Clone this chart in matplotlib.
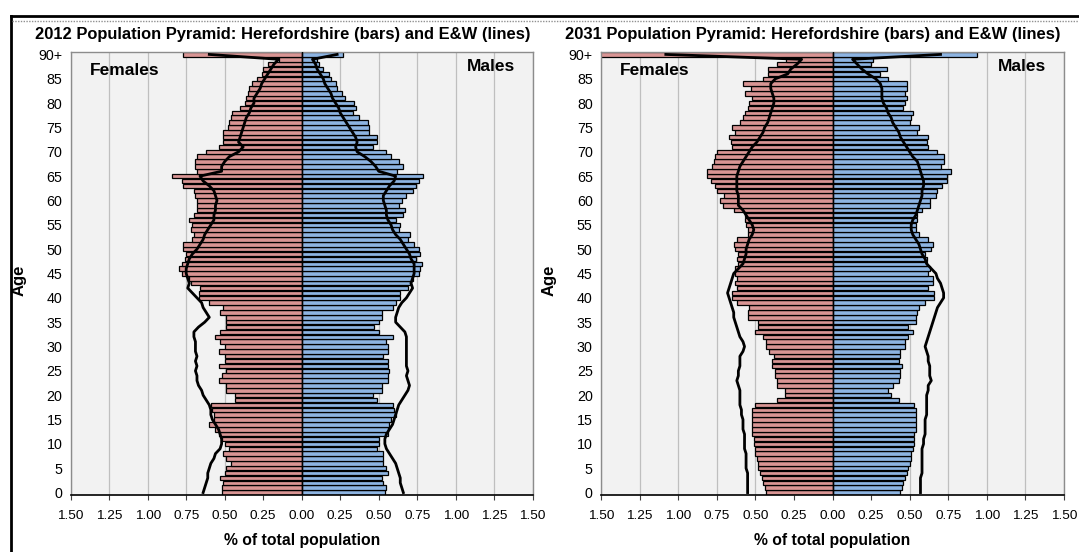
#!/usr/bin/env python3

import matplotlib
matplotlib.use('Agg')
import matplotlib.pyplot as plt
from matplotlib.lines import Line2D
import numpy as np

plt.rcParams['font.family'] = ['Liberation Sans', 'DejaVu Sans']

# ages 0..89 plus 90+ (index 90)
ages = list(range(91))
age_ticks = list(range(0, 91, 5))
age_tick_labels = [str(a) for a in range(0, 90, 5)] + ['90+']
x_ticks = [-1.5, -1.25, -1.0, -0.75, -0.5, -0.25, 0, 0.25, 0.5, 0.75, 1.0, 1.25, 1.5]

# 2012 Herefordshire (bars), % of total population
fem_2012 = [0.52, 0.52, 0.51, 0.53, 0.50, 0.49, 0.46, 0.49, 0.51, 0.47,
            0.50, 0.52, 0.54, 0.56, 0.60, 0.57, 0.57, 0.58, 0.59, 0.43,
            0.43, 0.49, 0.49, 0.54, 0.52, 0.49, 0.54, 0.50, 0.50, 0.54,
            0.50, 0.53, 0.56, 0.53, 0.49, 0.49, 0.49, 0.53, 0.51, 0.60,
            0.67, 0.67, 0.66, 0.72, 0.73, 0.78, 0.80, 0.78, 0.76, 0.75,
            0.77, 0.77, 0.71, 0.70, 0.72, 0.71, 0.73, 0.70, 0.68, 0.68,
            0.68, 0.69, 0.70, 0.77, 0.78, 0.84, 0.68, 0.69, 0.69, 0.68,
            0.62, 0.54, 0.51, 0.51, 0.51, 0.48, 0.47, 0.46, 0.45, 0.40,
            0.37, 0.36, 0.35, 0.34, 0.32, 0.29, 0.26, 0.25, 0.22, 0.15,
            0.77]
mal_2012 = [0.54, 0.55, 0.53, 0.52, 0.56, 0.55, 0.53, 0.53, 0.53, 0.49,
            0.50, 0.50, 0.56, 0.56, 0.57, 0.58, 0.61, 0.60, 0.59, 0.49,
            0.46, 0.52, 0.52, 0.56, 0.56, 0.57, 0.56, 0.56, 0.53, 0.56,
            0.56, 0.55, 0.59, 0.50, 0.47, 0.50, 0.52, 0.52, 0.59, 0.61,
            0.64, 0.64, 0.69, 0.70, 0.72, 0.76, 0.77, 0.78, 0.74, 0.77,
            0.76, 0.73, 0.69, 0.70, 0.63, 0.64, 0.61, 0.66, 0.67, 0.63,
            0.65, 0.68, 0.72, 0.74, 0.76, 0.79, 0.62, 0.66, 0.63, 0.58,
            0.55, 0.46, 0.49, 0.49, 0.44, 0.44, 0.43, 0.37, 0.33, 0.35,
            0.34, 0.28, 0.26, 0.23, 0.22, 0.19, 0.18, 0.14, 0.11, 0.10,
            0.27]

# 2012 England & Wales (lines)
fem_ew_2012 = [0.64, 0.63, 0.62, 0.61, 0.61, 0.60, 0.59, 0.57, 0.56, 0.53,
               0.52, 0.52, 0.53, 0.54, 0.56, 0.58, 0.59, 0.59, 0.60, 0.62,
               0.64, 0.65, 0.67, 0.68, 0.68, 0.69, 0.68, 0.69, 0.68, 0.69,
               0.69, 0.69, 0.70, 0.70, 0.67, 0.63, 0.60, 0.62, 0.64, 0.65,
               0.68, 0.71, 0.74, 0.73, 0.74, 0.75, 0.75, 0.74, 0.73, 0.71,
               0.68, 0.66, 0.64, 0.63, 0.61, 0.59, 0.57, 0.57, 0.56, 0.56,
               0.55, 0.56, 0.57, 0.60, 0.64, 0.66, 0.52, 0.52, 0.50, 0.47,
               0.41, 0.38, 0.41, 0.40, 0.39, 0.38, 0.37, 0.36, 0.34, 0.33,
               0.31, 0.31, 0.29, 0.27, 0.26, 0.24, 0.22, 0.20, 0.18, 0.15,
               0.60]
mal_ew_2012 = [0.66, 0.65, 0.64, 0.64, 0.63, 0.62, 0.61, 0.59, 0.57, 0.55,
               0.54, 0.54, 0.55, 0.57, 0.59, 0.60, 0.61, 0.62, 0.63, 0.65,
               0.67, 0.69, 0.70, 0.69, 0.68, 0.69, 0.68, 0.68, 0.68, 0.68,
               0.68, 0.68, 0.68, 0.67, 0.64, 0.61, 0.61, 0.62, 0.63, 0.65,
               0.68, 0.70, 0.72, 0.71, 0.72, 0.73, 0.73, 0.73, 0.71, 0.70,
               0.68, 0.66, 0.64, 0.61, 0.59, 0.58, 0.56, 0.55, 0.55, 0.54,
               0.53, 0.53, 0.55, 0.57, 0.60, 0.61, 0.50, 0.48, 0.45, 0.41,
               0.36, 0.35, 0.36, 0.35, 0.33, 0.31, 0.29, 0.27, 0.25, 0.24,
               0.22, 0.20, 0.19, 0.17, 0.15, 0.14, 0.12, 0.10, 0.09, 0.07,
               0.23]

# 2031 Herefordshire (bars)
fem_2031 = [0.43, 0.44, 0.45, 0.46, 0.47, 0.48, 0.48, 0.49, 0.50, 0.50,
            0.51, 0.51, 0.52, 0.52, 0.52, 0.52, 0.52, 0.52, 0.50, 0.36,
            0.31, 0.31, 0.36, 0.36, 0.37, 0.37, 0.39, 0.39, 0.38, 0.41,
            0.43, 0.43, 0.45, 0.50, 0.48, 0.48, 0.55, 0.55, 0.54, 0.62,
            0.65, 0.65, 0.62, 0.63, 0.62, 0.63, 0.63, 0.61, 0.62, 0.61,
            0.63, 0.64, 0.62, 0.55, 0.55, 0.56, 0.57, 0.57, 0.64, 0.71,
            0.73, 0.70, 0.75, 0.76, 0.79, 0.81, 0.81, 0.78, 0.77, 0.76,
            0.75, 0.65, 0.66, 0.67, 0.63, 0.65, 0.60, 0.58, 0.57, 0.55,
            0.54, 0.52, 0.57, 0.53, 0.58, 0.45, 0.42, 0.42, 0.36, 0.30,
            1.62]
mal_2031 = [0.44, 0.45, 0.46, 0.47, 0.48, 0.49, 0.50, 0.51, 0.51, 0.52,
            0.53, 0.53, 0.53, 0.54, 0.54, 0.54, 0.54, 0.54, 0.53, 0.43,
            0.38, 0.36, 0.39, 0.43, 0.44, 0.44, 0.45, 0.43, 0.44, 0.44,
            0.47, 0.47, 0.49, 0.52, 0.49, 0.54, 0.54, 0.55, 0.56, 0.60,
            0.66, 0.66, 0.62, 0.65, 0.65, 0.62, 0.63, 0.61, 0.61, 0.60,
            0.64, 0.65, 0.62, 0.56, 0.54, 0.54, 0.55, 0.55, 0.58, 0.63,
            0.63, 0.67, 0.68, 0.71, 0.74, 0.74, 0.77, 0.70, 0.72, 0.72,
            0.68, 0.62, 0.61, 0.62, 0.55, 0.56, 0.50, 0.51, 0.52, 0.46,
            0.47, 0.48, 0.47, 0.48, 0.48, 0.36, 0.31, 0.35, 0.25, 0.26,
            0.935]

# 2031 England & Wales (lines)
fem_ew_2031 = [0.55, 0.55, 0.55, 0.55, 0.55, 0.56, 0.56, 0.56, 0.56, 0.57,
               0.57, 0.57, 0.57, 0.58, 0.58, 0.58, 0.59, 0.59, 0.60, 0.60,
               0.60, 0.60, 0.61, 0.62, 0.61, 0.61, 0.60, 0.60, 0.60, 0.58,
               0.57, 0.58, 0.60, 0.61, 0.62, 0.63, 0.64, 0.64, 0.65, 0.66,
               0.67, 0.68, 0.67, 0.66, 0.65, 0.64, 0.61, 0.58, 0.57, 0.56,
               0.56, 0.55, 0.54, 0.52, 0.51, 0.52, 0.54, 0.56, 0.58, 0.61,
               0.61, 0.61, 0.62, 0.62, 0.62, 0.62, 0.61, 0.60, 0.58, 0.56,
               0.54, 0.52, 0.49, 0.47, 0.45, 0.44, 0.42, 0.41, 0.40, 0.39,
               0.38, 0.38, 0.39, 0.40, 0.40, 0.37, 0.29, 0.27, 0.23, 0.20,
               1.08]
mal_ew_2031 = [0.57, 0.57, 0.57, 0.57, 0.58, 0.58, 0.58, 0.58, 0.58, 0.58,
               0.59, 0.59, 0.60, 0.60, 0.60, 0.60, 0.61, 0.61, 0.61, 0.61,
               0.61, 0.62, 0.62, 0.64, 0.63, 0.63, 0.63, 0.62, 0.62, 0.61,
               0.60, 0.61, 0.62, 0.63, 0.64, 0.65, 0.66, 0.67, 0.68, 0.70,
               0.72, 0.72, 0.71, 0.70, 0.68, 0.67, 0.64, 0.61, 0.60, 0.58,
               0.57, 0.56, 0.54, 0.52, 0.51, 0.51, 0.52, 0.54, 0.55, 0.56,
               0.57, 0.58, 0.58, 0.59, 0.59, 0.58, 0.57, 0.56, 0.55, 0.52,
               0.50, 0.48, 0.46, 0.44, 0.43, 0.41, 0.39, 0.38, 0.36, 0.35,
               0.33, 0.32, 0.32, 0.32, 0.31, 0.28, 0.23, 0.19, 0.16, 0.13,
               0.70]

female_col = '#D99594'
male_col = '#8DB4E2'

W, H = 1079, 552


def draw_pyramid(ax, fem, mal, fem_line, mal_line):
    ax.set_facecolor('#F2F2F2')
    for x in x_ticks:
        if x != 0:
            ax.axvline(x, color='#BFBFBF', lw=0.9, zorder=0)
    ax.barh(ages, -np.array(fem), height=0.92, color=female_col,
            edgecolor='black', linewidth=0.9, zorder=2)
    ax.barh(ages, mal, height=0.92, color=male_col,
            edgecolor='black', linewidth=0.9, zorder=2)
    ax.axvline(0, color='black', lw=1.0, zorder=3)
    ax.plot(-np.array(fem_line), ages, color='black', lw=2.0, zorder=4)
    ax.plot(mal_line, ages, color='black', lw=2.0, zorder=4)

    ax.set_xlim(-1.5, 1.5)
    ax.set_ylim(-0.5, 90.5)
    ax.set_xticks(x_ticks)
    ax.set_xticklabels(['%.2f' % abs(x) for x in x_ticks], fontsize=9.7)
    ax.set_yticks(age_ticks)
    ax.set_yticklabels(age_tick_labels, fontsize=10.3)
    ax.tick_params(axis='y', length=0, pad=6)
    ax.tick_params(axis='x', length=3.5, width=0.8, color='#404040',
                   direction='out', pad=7.5)
    for side in ['top', 'right', 'left']:
        ax.spines[side].set_color('#8C8C8C')
        ax.spines[side].set_linewidth(1.0)
    ax.spines['bottom'].set_color('black')
    ax.spines['bottom'].set_linewidth(1.2)

    ax.text(-1.375, 86.8, 'Females', fontsize=12.5, fontweight='bold',
            ha='left', va='center')
    ax.text(1.385, 87.6, 'Males', fontsize=12.5, fontweight='bold',
            ha='right', va='center')
    ax.set_ylabel('Age', fontsize=12, fontweight='bold')
    ax.yaxis.set_label_coords(-0.095, 0.485)
    ax.text(0.5, (495 - 541) / 443, '% of total population', transform=ax.transAxes,
            fontsize=11.3, fontweight='bold', ha='center', va='center')


fig = plt.figure(figsize=(W / 100, H / 100), dpi=100)
fig.patch.set_facecolor('white')

ax1 = fig.add_axes([70.7 / W, (H - 495) / H, 462 / W, 443 / H])
ax2 = fig.add_axes([601 / W, (H - 495) / H, 463 / W, 443 / H])

draw_pyramid(ax1, fem_2012, mal_2012, fem_ew_2012, mal_ew_2012)
draw_pyramid(ax2, fem_2031, mal_2031, fem_ew_2031, mal_ew_2031)

fig.text(283 / W, 1 - 35 / H,
         '2012 Population Pyramid: Herefordshire (bars) and E&W (lines)',
         fontsize=11.9, fontweight='bold', ha='center', va='center')
fig.text(813 / W, 1 - 35 / H,
         '2031 Population Pyramid: Herefordshire (bars) and E&W (lines)',
         fontsize=11.9, fontweight='bold', ha='center', va='center')

# outer frame
fig.add_artist(Line2D([11 / W, 1], [1 - 16 / H, 1 - 16 / H], color='black', lw=2))
fig.add_artist(Line2D([11 / W, 11 / W], [0, 1 - 16 / H], color='black', lw=2))
fig.add_artist(Line2D([12 / W, 1], [1 - 21 / H, 1 - 21 / H], color='#909090',
                      lw=1, linestyle=(0, (1, 1))))

plt.savefig('out.png', dpi=100, facecolor='white')
plt.close()
